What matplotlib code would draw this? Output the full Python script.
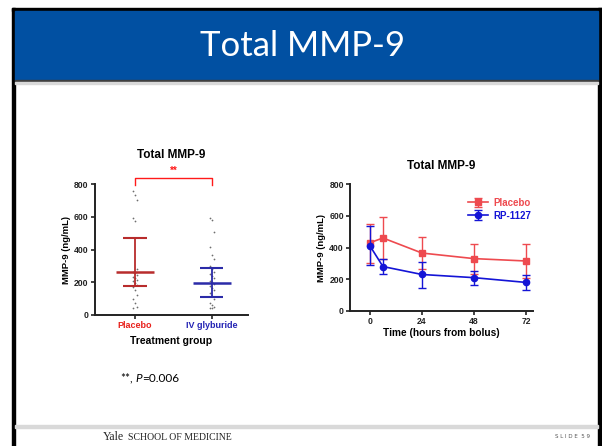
import matplotlib
matplotlib.use("Agg")
import matplotlib.pyplot as plt
from matplotlib.patches import Rectangle
import numpy as np

# ---------------- data ----------------
groups = ["Placebo", "IV glyburide"]
placebo_pts = [755, 735, 705, 590, 575, 280, 265, 255, 245, 235, 225, 215,
               205, 195, 185, 170, 150, 125, 95, 75, 50, 40]
glyb_pts = [595, 580, 505, 415, 365, 340, 300, 280, 265, 250, 240, 225, 210,
            200, 190, 180, 165, 150, 135, 115, 95, 75, 60, 50, 45, 40]
medians = [260, 195]
q1 = [175, 110]
q3 = [470, 285]

hours = [0, 6, 24, 48, 72]
placebo_mean = [430, 460, 365, 330, 315]
placebo_lo = [300, 330, 265, 235, 210]
placebo_hi = [550, 595, 465, 425, 420]
rp_mean = [410, 280, 230, 210, 180]
rp_lo = [290, 230, 145, 165, 135]
rp_hi = [535, 330, 310, 255, 225]

W, H = 602, 446
fig = plt.figure(figsize=(W / 100, H / 100), dpi=100)
fig.patch.set_facecolor("white")

def ax_px(x0, y0, x1, y1):
    # pixel box (top-left origin) -> figure fraction
    return fig.add_axes([x0 / W, 1 - y1 / H, (x1 - x0) / W, (y1 - y0) / H])

# ---------------- slide frame ----------------
bg = fig.add_axes([0, 0, 1, 1])
bg.set_xlim(0, W)
bg.set_ylim(H, 0)
bg.axis("off")
bg.add_patch(Rectangle((12, 8), 3, H - 8, color="black"))
bg.add_patch(Rectangle((12, 8), W - 12, 3, color="black"))
bg.add_patch(Rectangle((598, 8), 4, H - 8, color="black"))
bg.add_patch(Rectangle((15, 11), 583, 69, color="#0150a2"))
bg.add_patch(Rectangle((15, 80), 583, 2, color="#3f3f3f"))
bg.add_patch(Rectangle((15, 82), 583, 2, color="#d9d9d9"))
bg.add_patch(Rectangle((15, 425), 583, 3, color="#d9d9d9"))
bg.text(303, 46, "Total MMP-9", color="white", fontsize=25, family="Lato",
        ha="center", va="center")
bg.text(120, 378, "**,", fontsize=8.5, family="Lato", ha="left", va="center")
bg.text(135, 378, "P", fontsize=8.5, family="Lato", style="italic", ha="left", va="center")
bg.text(142, 378, "=0.006", fontsize=8.5, family="Lato", ha="left", va="center")
bg.text(103, 437, "Yale", fontsize=8.5, family="Liberation Serif", ha="left",
        va="center", color="#222222")
bg.text(128, 437.5, "SCHOOL OF MEDICINE", fontsize=7.0, family="Liberation Serif",
        ha="left", va="center", color="#222222")
bg.text(590, 437, "S L I D E  5 9", fontsize=4, family="DejaVu Sans", ha="right",
        va="center", color="#555555")

def style_axes(ax):
    for s in ["top", "right"]:
        ax.spines[s].set_visible(False)
    for s in ["left", "bottom"]:
        ax.spines[s].set_linewidth(1.4)
        ax.spines[s].set_color("#222222")
    ax.tick_params(axis="both", direction="out", length=3, width=1.2,
                   colors="#222222", pad=1.5)
    for lab in ax.get_yticklabels() + ax.get_xticklabels():
        lab.set_fontfamily("Liberation Sans")
        lab.set_fontweight("bold")
        lab.set_fontsize(6.2)
    ax.patch.set_alpha(0)

# ---------------- left chart ----------------
axL = ax_px(95, 184, 248, 315)
axL.set_xlim(-0.52, 1.47)
axL.set_ylim(0, 800)
axL.set_yticks([0, 200, 400, 600, 800])
axL.set_xticks([0, 1])
axL.set_xticklabels(groups)
style_axes(axL)
cols_dark = ["#b82c2c", "#2b2ba8"]
lab_cols = ["#e8201b", "#2424b4"]
for lab, c in zip(axL.get_xticklabels(), lab_cols):
    lab.set_color(c)
    lab.set_fontsize(6.5)
for i, pts in enumerate([placebo_pts, glyb_pts]):
    pts = np.array(pts)
    offs = np.array([(k % 3 - 1) * 0.03 for k in range(len(pts))])
    axL.scatter(i + offs, pts, s=1.6, color="#6e6e6e", zorder=3, linewidths=0)
    axL.hlines(medians[i], i - 0.25, i + 0.25, color=cols_dark[i], lw=1.8, zorder=4)
    axL.hlines([q1[i], q3[i]], i - 0.15, i + 0.15, color=cols_dark[i], lw=1.5, zorder=4)
    axL.vlines(i, q1[i], q3[i], color=cols_dark[i], lw=1.3, zorder=4)
axL.set_ylabel("MMP-9 (ng/mL)", fontfamily="Liberation Sans", fontweight="bold",
               fontsize=6.8, labelpad=2)
axL.set_xlabel("Treatment group", fontfamily="Liberation Sans", fontweight="bold",
               fontsize=7.5, labelpad=4)
axL.set_title("Total MMP-9", fontfamily="Liberation Sans", fontweight="bold",
              fontsize=8.5, pad=19)
# significance bracket
axL.plot([0, 0, 1, 1], [795, 837, 837, 795], color="#ff1a1a", lw=1.0,
         clip_on=False, zorder=5)
axL.text(0.5, 850, "**", color="#ff1a1a", ha="center", va="bottom",
         fontsize=7, fontweight="bold", family="Liberation Sans")

# ---------------- right chart ----------------
axR = ax_px(350, 184, 533, 311)
axR.set_xlim(-9.2, 75.2)
axR.set_ylim(0, 800)
axR.set_yticks([0, 200, 400, 600, 800])
axR.set_xticks([0, 24, 48, 72])
style_axes(axR)
pc = "#ee4a4f"
bc = "#1414d6"
axR.errorbar(hours, placebo_mean,
             yerr=[np.array(placebo_mean) - np.array(placebo_lo),
                   np.array(placebo_hi) - np.array(placebo_mean)],
             color=pc, marker="s", ms=4.5, lw=1.2, elinewidth=1.0, capsize=3,
             capthick=1.0, label="Placebo", zorder=3)
axR.errorbar(hours, rp_mean,
             yerr=[np.array(rp_mean) - np.array(rp_lo),
                   np.array(rp_hi) - np.array(rp_mean)],
             color=bc, marker="o", ms=4.5, lw=1.2, elinewidth=1.0, capsize=3,
             capthick=1.0, label="RP-1127", zorder=4)
leg = axR.legend(loc="upper right", bbox_to_anchor=(1.04, 0.96), frameon=False,
                 prop=dict(family="Liberation Sans", weight="bold", size=7),
                 handlelength=2.0, handletextpad=0.6, labelspacing=0.3)
for t, c in zip(leg.get_texts(), [pc, bc]):
    t.set_color(c)
axR.set_ylabel("MMP-9 (ng/mL)", fontfamily="Liberation Sans", fontweight="bold",
               fontsize=6.8, labelpad=2)
axR.set_xlabel("Time (hours from bolus)", fontfamily="Liberation Sans",
               fontweight="bold", fontsize=7.3, labelpad=1)
axR.set_title("Total MMP-9", fontfamily="Liberation Sans", fontweight="bold",
              fontsize=8.5, pad=11)

fig.savefig("out.png", dpi=100)
